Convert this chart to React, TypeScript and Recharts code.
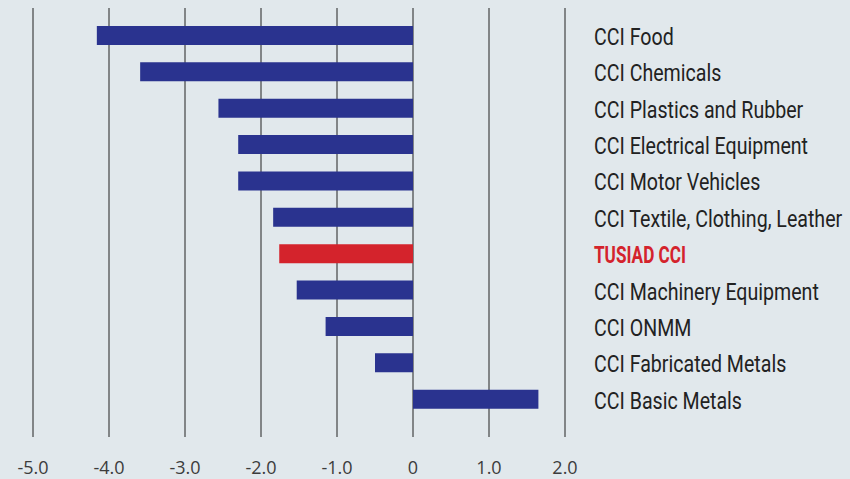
import { Bar, BarChart, CartesianGrid, Cell, XAxis, YAxis } from 'recharts';

const categories = [
	'CCI Food',
	'CCI Chemicals',
	'CCI Plastics and Rubber',
	'CCI Electrical Equipment',
	'CCI Motor Vehicles',
	'CCI Textile, Clothing, Leather',
	'TUSIAD CCI',
	'CCI Machinery Equipment',
	'CCI ONMM',
	'CCI Fabricated Metals',
	'CCI Basic Metals',
];

const values = [-4.16, -3.59, -2.56, -2.3, -2.3, -1.84, -1.76, -1.53, -1.15, -0.5, 1.65];

const xTicks = [-5, -4, -3, -2, -1, 0, 1, 2];

const highlight = 'TUSIAD CCI';

const data = categories.map((name, i) => ({ name, value: values[i] }));

const BLUE = '#2a338f';
const RED = '#d4232c';

// the original uses a condensed face; squeeze Roboto horizontally to get close
const SQUEEZE = 0.8;
const SQUEEZE_BOLD = 0.7;

const CategoryTick = (props: any) => {
	const { x, y, payload } = props;
	const isMain = payload.value === highlight;
	return (
		<g transform={`translate(${x},${y}) scale(${isMain ? SQUEEZE_BOLD : SQUEEZE},1)`}>
			<text
				x={0}
				y={0}
				dy="0.4em"
				textAnchor="start"
				fontFamily="Roboto, sans-serif"
				fontSize={24.5}
				fontWeight={isMain ? 700 : 400}
				fill={isMain ? RED : '#222'}
			>
				{payload.value}
			</text>
		</g>
	);
};

const fmt = (v: number) => (v === 0 ? '0' : v.toFixed(1));

export default function App() {
	return (
		<div style={{ position: 'absolute', left: 0, top: 0, width: 850, height: 479, background: '#e1e8ec' }}>
			<BarChart
				width={850}
				height={479}
				data={data}
				layout="vertical"
				margin={{ top: 8, right: 0, bottom: 0, left: 33 }}
			>
				<CartesianGrid horizontal={false} stroke="#222" strokeWidth={1} />
				<XAxis
					type="number"
					domain={[-5, 2]}
					ticks={xTicks}
					tickFormatter={fmt}
					axisLine={false}
					tickLine={false}
					height={42}
					tickMargin={18}
					interval={0}
					tick={{ fill: '#3c3c3c', fontSize: 18, fontFamily: "'Open Sans', sans-serif" }}
				/>
				<YAxis
					type="category"
					dataKey="name"
					orientation="right"
					width={285}
					axisLine={false}
					tickLine={false}
					tickMargin={23}
					interval={0}
					padding={{ top: 9, bottom: 20 }}
					tick={<CategoryTick />}
				/>
				<Bar dataKey="value" barSize={19} isAnimationActive={false}>
					{data.map(d => (
						<Cell key={d.name} fill={d.name === highlight ? RED : BLUE} />
					))}
				</Bar>
			</BarChart>
		</div>
	);
}
